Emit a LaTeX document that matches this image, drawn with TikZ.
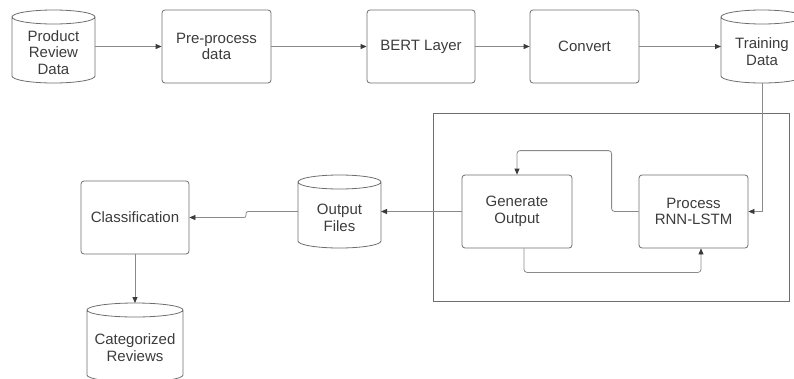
\documentclass[tikz,border=0pt]{standalone}
\usepackage{fontspec}
\setmainfont{Liberation Sans}
\usetikzlibrary{arrows.meta,calc}
\definecolor{edge}{HTML}{6E6E6E}
\definecolor{lineg}{HTML}{8A8A8A}
\definecolor{txtc}{HTML}{3C3C3C}
\definecolor{tipc}{HTML}{3A3A3A}
\begin{document}
\begin{tikzpicture}[x=1pt,y=1pt,
 txt/.style={font=\fontsize{15}{16.8}\selectfont, text=txtc, align=center},
 box/.style={txt, draw=edge, line width=0.8pt, rounded corners=3pt, minimum width=109pt, minimum height=73pt, inner sep=0pt},
 cyl/.style={inner sep=0pt, outer sep=0pt},
 arr/.style={draw=lineg, line width=0.8pt, -{Triangle[length=6pt,width=5pt,color=tipc]}},
 frame/.style={draw=edge, line width=0.8pt, inner sep=0pt}
]
\useasboundingbox (0,0) rectangle (794,-378);

% process boxes
\node[box] (pre) at (216.5,-46.5) {Pre-process\\data};
\node[box, minimum width=108pt] (bert) at (421,-46.5) {BERT Layer};
\node[box] (conv) at (584.5,-46.5) {Convert};
\node[frame, minimum width=356pt, minimum height=188pt] (fr) at (611,-207) {};
\node[box, minimum width=110pt] (gen) at (517,-211.5) {Generate\\Output};
\node[box] (proc) at (693.5,-211.5) {Process\\RNN-LSTM};
\node[box, minimum width=108pt] (cls) at (135,-217.5) {Classification};

% cylinders (data stores)
\node[cyl, minimum width=83pt, minimum height=73pt,
      label={[txt,yshift=-6pt]center:Product\\Review\\Data}] (prd) at (53.5,-46.5) {};
\node[cyl, minimum width=82pt, minimum height=73pt,
      label={[txt,yshift=-5.5pt]center:Training\\Data}] (trn) at (762,-46.5) {};
\node[cyl, minimum width=83pt, minimum height=73pt,
      label={[txt,yshift=-6pt]center:Output\\Files}] (out) at (339.5,-211.5) {};
\node[cyl, minimum width=96pt, minimum height=79pt,
      label={[txt,yshift=-5.5pt]center:Categorized\\Reviews}] (cat) at (135,-342.5) {};

\foreach \c in {prd,trn,out,cat}{
  \draw[draw=edge, line width=0.8pt]
    let \p1=(\c.north west), \p2=(\c.south east), \n1={(\x2-\x1)/2} in
    (\x1,\y1-7pt) -- (\x1,\y2+7pt)
    arc[start angle=180, end angle=360, x radius=\n1, y radius=7pt]
    -- (\x2,\y1-7pt)
    (\x1+\n1,\y1-7pt) ellipse[x radius=\n1, y radius=7pt];
}

% connectors
\draw[arr] (prd.east) -- (pre.west);
\draw[arr] (pre.east) -- (bert.west);
\draw[arr] (bert.east) -- (conv.west);
\draw[arr] (conv.east) -- (trn.west);
\draw[arr] (trn.south) |- (proc.east);
\draw[arr, rounded corners=3pt] (proc.west) -- ++(-27,0) |- ($(gen.north)+(0,24)$) -- (gen.north);
\coordinate (gs) at ($(gen.south)+(7,0)$);
\coordinate (ps) at ($(proc.south)+(7.5,0)$);
\draw[arr, rounded corners=3pt] (gs) -- ++(0,-24) -| (ps);
\draw[arr] (gen.west) -- (out.east);
\draw[arr, rounded corners=2pt] (out.west) -- ++(-52,0) |- (cls.east);
\draw[arr] (cls.south) -- (cat.north);
\end{tikzpicture}
\end{document}
